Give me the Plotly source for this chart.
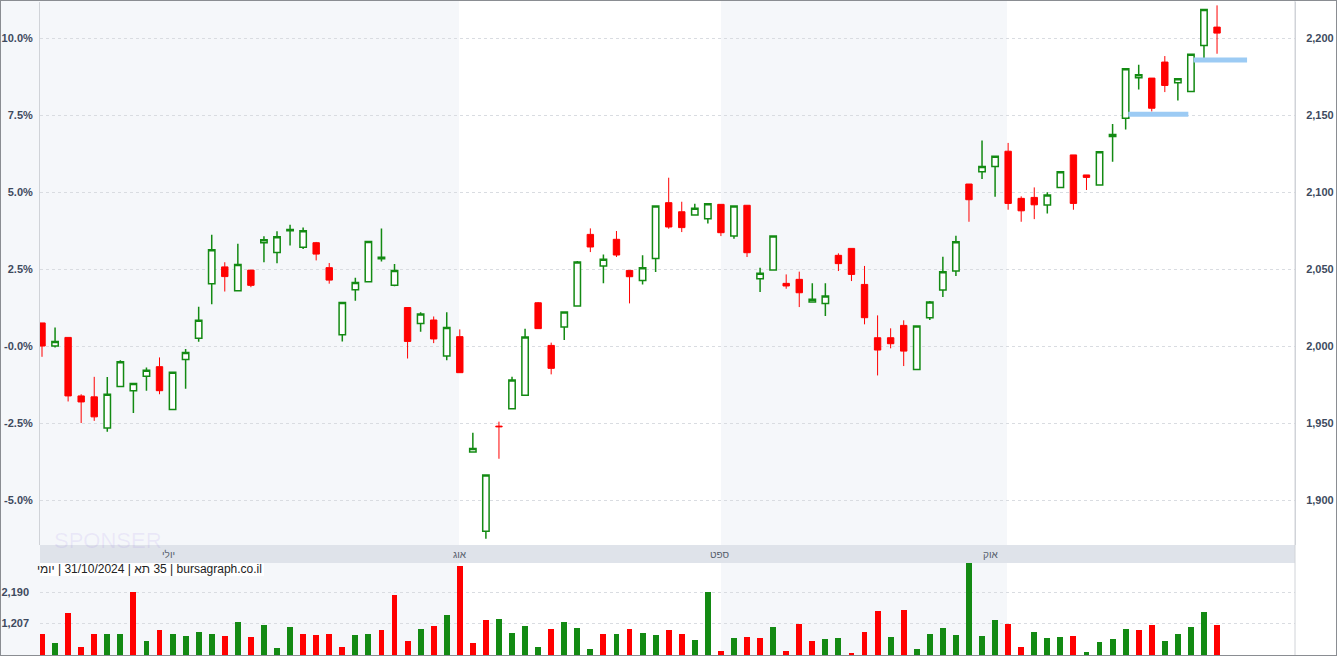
import plotly.graph_objects as go

W, H = 1337, 656

opens  = [2015,2000,2005.6,1967.6,1967,1946.8,1973.8,1971,1980.3,1986.6,1958.8,1991.2,2005.1,2040.5,2051.4,2035.9,2049.3,2067.1,2060.7,2074.8,2064.1,2067.1,2050.9,2007.4,2036.6,2041.7,2056.7,2039.4,2025,2014.6,2016.9,1993.5,
          2006.1,1931.2,1879.8,1948,1959.3,1968,2028.1,2000.4,2012.3,2026,2072.5,2052,2069.3,2049.1,2042.6,2056.9,2093.1,2087.2,2085.1,2082.7,2092,2071.4,2091.4,2043.7,2049.4,2040.7,2043.3,2028.6,2027.7,2058.9,2063.4,2040,2005.4,2005.4,
          2013.4,1984.8,2018.4,2036.4,2048.8,2105.2,2113.2,2116.5,2126.5,2095.9,2096.5,2091.5,2103,2124.1,2111.1,2104.5,2136,2147.9,2174.2,2174,2184.4,2170.9,2165.3,2195.2,2207.1]
closes = [2000,2003,1967.6,1963.7,1954,1968.7,1989.8,1975.7,1984.3,1971,1982.9,1995.8,2016.7,2062.5,2045.1,2053,2039.4,2069,2071,2075.7,2074.8,2059.7,2042.8,2028.2,2041.2,2067.8,2057.6,2049.1,2003,2020.8,2004.6,2012,
          1982.7,1933.5,1916.2,1947.6,1977.9,2005.8,2011.3,1985.5,2022.1,2054.6,2064.3,2056.3,2059.1,2045,2050.9,2090.9,2077.3,2076.9,2089.4,2092.4,2073.6,2090.9,2060.6,2047.2,2071.4,2039,2034.6,2030.3,2032.5,2053.5,2046.5,2018.4,1997.4,2001.5,
          1996.7,2013,2028.6,2048.2,2067.7,2095,2116.5,2123.2,2092.6,2087.8,2091.7,2098,2113.2,2092.6,2109.5,2126.2,2137.3,2180,2176.1,2154.4,2169.2,2173.5,2189.4,2218.6,2203.2]
highs  = [2015,2012,2005.6,1968.7,1980,1979.9,1990.7,1975.7,1986.1,1992.6,1982.9,1998.1,2025.5,2072.2,2054.4,2066.4,2049.3,2071.3,2074.5,2078.7,2076.9,2067.6,2053.9,2028.2,2044.4,2067.8,2076.4,2053.2,2025,2022,2019.2,2022,
          2010.8,1943.7,1916.2,1950.9,1980.1,2011.3,2028.6,2002.2,2022.1,2055.2,2076.4,2059.5,2074.7,2049.1,2058.9,2090.9,2109.3,2093.7,2092.4,2092.4,2092,2090.9,2091.4,2050.9,2071.4,2046.5,2048.3,2040.7,2040.7,2060.2,2063.4,2052,2019.9,2011.5,
          2016.7,2013,2029.3,2057.9,2071.6,2105.2,2133.4,2123.2,2131.9,2097.2,2103,2099.8,2113.2,2124.1,2111.1,2126.2,2144.2,2180,2182.6,2174,2188.3,2173.5,2189.4,2218.6,2221.2]
lows   = [1993,1999,1964,1950,1951.4,1944.4,1973.8,1956.5,1971,1968.7,1958.8,1972.2,2002.8,2027.1,2035.4,2035.9,2038.2,2054.4,2053.7,2065.3,2063,2055.6,2040.5,2003,2029.4,2041.7,2054.9,2038.9,1991.9,2009.3,2001.9,1990.7,
          1982.7,1930.7,1874.9,1926.8,1959.3,1968,2011.3,1981.6,2003.9,2026,2061,2040.7,2057.8,2027.7,2040,2048.1,2076.2,2074,2085.1,2079.5,2071.4,2069.7,2057.8,2035.1,2049.4,2037.2,2025.3,2028.6,2019.5,2048.7,2042.2,2014.1,1980.9,1998.5,
          1987,1984.8,2016.9,2031.9,2045.5,2080.7,2108.5,2097,2088.5,2080.7,2082.4,2086.1,2102.4,2088.5,2101.3,2104.5,2119.7,2140.6,2166.6,2152.3,2164.9,2159.4,2165.3,2185.5,2189.8]

volumes = [846,560,1543,433,877,877,846,2199,624,1004,846,782,941,846,782,1258,750,1163,402,1099,846,814,877,433,814,846,1004,2114,624,1036,1131,1480,3034,560,1321,1353,909,1131,433,1036,1258,1068,370,846,846,1036,909,814,1004,846,
           666,2209,307,719,750,719,1099,307,1194,624,687,719,243,941,1607,750,1638,370,846,1068,814,3129,782,1321,1194,433,941,719,750,782,275,592,687,1036,1004,1163,624,877,1099,1575,1163]
vol_up = "RGRRRGGRGRGGGGRGRGGGRRRRGGRRRGRGRRRGGGGRGGGRGRGGRR" + "GGRGRRGRRRGGRRRGRGGGGGGGRRGGGRGGGGRRGGGGR"

levels      = [2150.5, 2185.7]
level_start = [83.2, 88.2]
level_end   = [87.8, 92.3]

months     = ["יולי", "אוג", "ספט", "אוק"]
month_px   = [160, 460, 720, 1000]
pct_ticks  = [-5, -2.5, 0, 2.5, 5, 7.5, 10]
pct_text   = ["-5.0%", "-2.5%", "-0.0%", "2.5%", "5.0%", "7.5%", "10.0%"]
price_ticks = [1900, 1950, 2000, 2050, 2100, 2150, 2200]
vol_ticks = [1207, 2190]
base_price = 2000
caption = "יומי\u200e | 31/10/2024 | תא\u200e 35 | bursagraph.co.il"

n = len(opens)
xs = list(range(n))
GREEN, RED = "#138a13", "#ff0000"

def px(x):
    return x / W

def py(y):
    return 1 - y / H

x0_px, x1_px = 40, 1295
step = 13.056
xr = [(x0_px - 42) / step, (x1_px - 42) / step]
pr = [1870.8, 2223.4]

fig = go.Figure()
fig.add_trace(go.Candlestick(
    x=xs, open=opens, high=highs, low=lows, close=closes,
    increasing=dict(line=dict(color=GREEN, width=1.5), fillcolor="white"),
    decreasing=dict(line=dict(color=RED, width=1), fillcolor=RED),
    whiskerwidth=0, xaxis="x", yaxis="y", showlegend=False, hoverinfo="skip"))
fig.add_trace(go.Scatter(x=[0], y=[0], yaxis="y2", xaxis="x", mode="markers",
                         marker=dict(opacity=0), showlegend=False, hoverinfo="skip"))
for lv, a, b in zip(levels, level_start, level_end):
    fig.add_trace(go.Scatter(x=[a, b], y=[lv, lv], mode="lines", xaxis="x", yaxis="y",
                             line=dict(color="#9ccbf4", width=5), showlegend=False, hoverinfo="skip"))
fig.add_trace(go.Bar(x=xs, y=volumes, xaxis="x2", yaxis="y3", width=0.45,
                     marker=dict(color=[GREEN if c == "G" else RED for c in vol_up], line=dict(width=0)),
                     showlegend=False, hoverinfo="skip"))

axis_font = dict(family="Arial, Liberation Sans", size=11, color="#3e4a5e", weight="bold")
fig.update_layout(
    width=W, height=H, margin=dict(l=0, r=0, t=0, b=0),
    paper_bgcolor="white", plot_bgcolor="rgba(0,0,0,0)",
    xaxis=dict(domain=[px(x0_px), px(x1_px)], range=xr, showticklabels=False, showgrid=False,
               zeroline=False, anchor="y", rangeslider=dict(visible=False)),
    xaxis2=dict(domain=[px(x0_px), px(x1_px)], range=xr, showticklabels=False, showgrid=False,
                zeroline=False, anchor="y3", matches="x"),
    yaxis=dict(domain=[py(545), py(2)], range=pr, side="right", anchor="x",
               tickvals=price_ticks, tickformat=",d", tickfont=axis_font,
               showgrid=True, gridcolor="#d9dce1", griddash="dot", zeroline=False,
               showline=True, linecolor="#d0d3d8", ticks="", ticklabelstandoff=8),
    yaxis2=dict(domain=[py(545), py(2)], overlaying="y", side="left", anchor="x",
                range=[(pr[0] / base_price - 1) * 100, (pr[1] / base_price - 1) * 100],
                tickvals=pct_ticks, ticktext=pct_text, tickfont=axis_font,
                showgrid=False, zeroline=False, showline=True, linecolor="#d0d3d8", ticks="",
                ticklabelstandoff=4),
    yaxis3=dict(domain=[0, py(563)], range=[158, 3130], side="left", anchor="x2",
                tickvals=vol_ticks, tickformat=",d", tickfont=axis_font,
                showgrid=True, gridcolor="#d9dce1", griddash="dot", zeroline=False, ticks="",
                ticklabelstandoff=10),
    bargap=0,
)

shapes = []
shapes.append(dict(type="rect", xref="paper", yref="paper", x0=0, x1=px(x0_px), y0=0, y1=1,
                   fillcolor="#f5f7fa", line=dict(width=0), layer="below"))
for a, b in [(40, 459), (721, 1007)]:
    shapes.append(dict(type="rect", xref="paper", yref="paper", x0=px(a), x1=px(b), y0=0, y1=1,
                       fillcolor="#f5f7fa", line=dict(width=0), layer="below"))
shapes.append(dict(type="rect", xref="paper", yref="paper", x0=px(x0_px), x1=px(x1_px),
                   y0=py(563), y1=py(545), fillcolor="#dfe3ea", line=dict(width=0), layer="below"))
shapes.append(dict(type="rect", xref="paper", yref="paper", x0=px(x0_px), x1=px(264),
                   y0=py(576), y1=py(563), fillcolor="white", line=dict(width=0), layer="below"))
shapes.append(dict(type="line", xref="paper", yref="paper", x0=px(x1_px), x1=px(x1_px), y0=0, y1=1,
                   line=dict(color="#d0d3d8", width=1)))
shapes.append(dict(type="rect", xref="paper", yref="paper", x0=0, x1=1, y0=0, y1=1,
                   line=dict(color="#8a8d92", width=2), fillcolor="rgba(0,0,0,0)"))
fig.update_layout(shapes=shapes)

ann = []
for m, xp in zip(months, month_px):
    ann.append(dict(text=m, x=px(xp), y=py(554), xref="paper", yref="paper", showarrow=False,
                    yanchor="middle", font=dict(family="Arial, Liberation Sans", size=10, color="#555d6b")))
ann.append(dict(text=caption, x=px(264), y=py(569),
                xref="paper", yref="paper", xanchor="right", yanchor="middle", showarrow=False,
                font=dict(family="Arial, Liberation Sans", size=12, color="#222")))
ann.append(dict(text="SPONSER", x=px(52), y=py(540), xref="paper", yref="paper", xanchor="left",
                yanchor="middle", showarrow=False,
                font=dict(family="Arial, Liberation Sans", size=22, color="rgba(150,120,230,0.12)")))
fig.update_layout(annotations=ann)

fig.write_html("out.html", config={"displayModeBar": False},
               post_script="document.body.style.margin='0';document.body.style.overflow='hidden';")
